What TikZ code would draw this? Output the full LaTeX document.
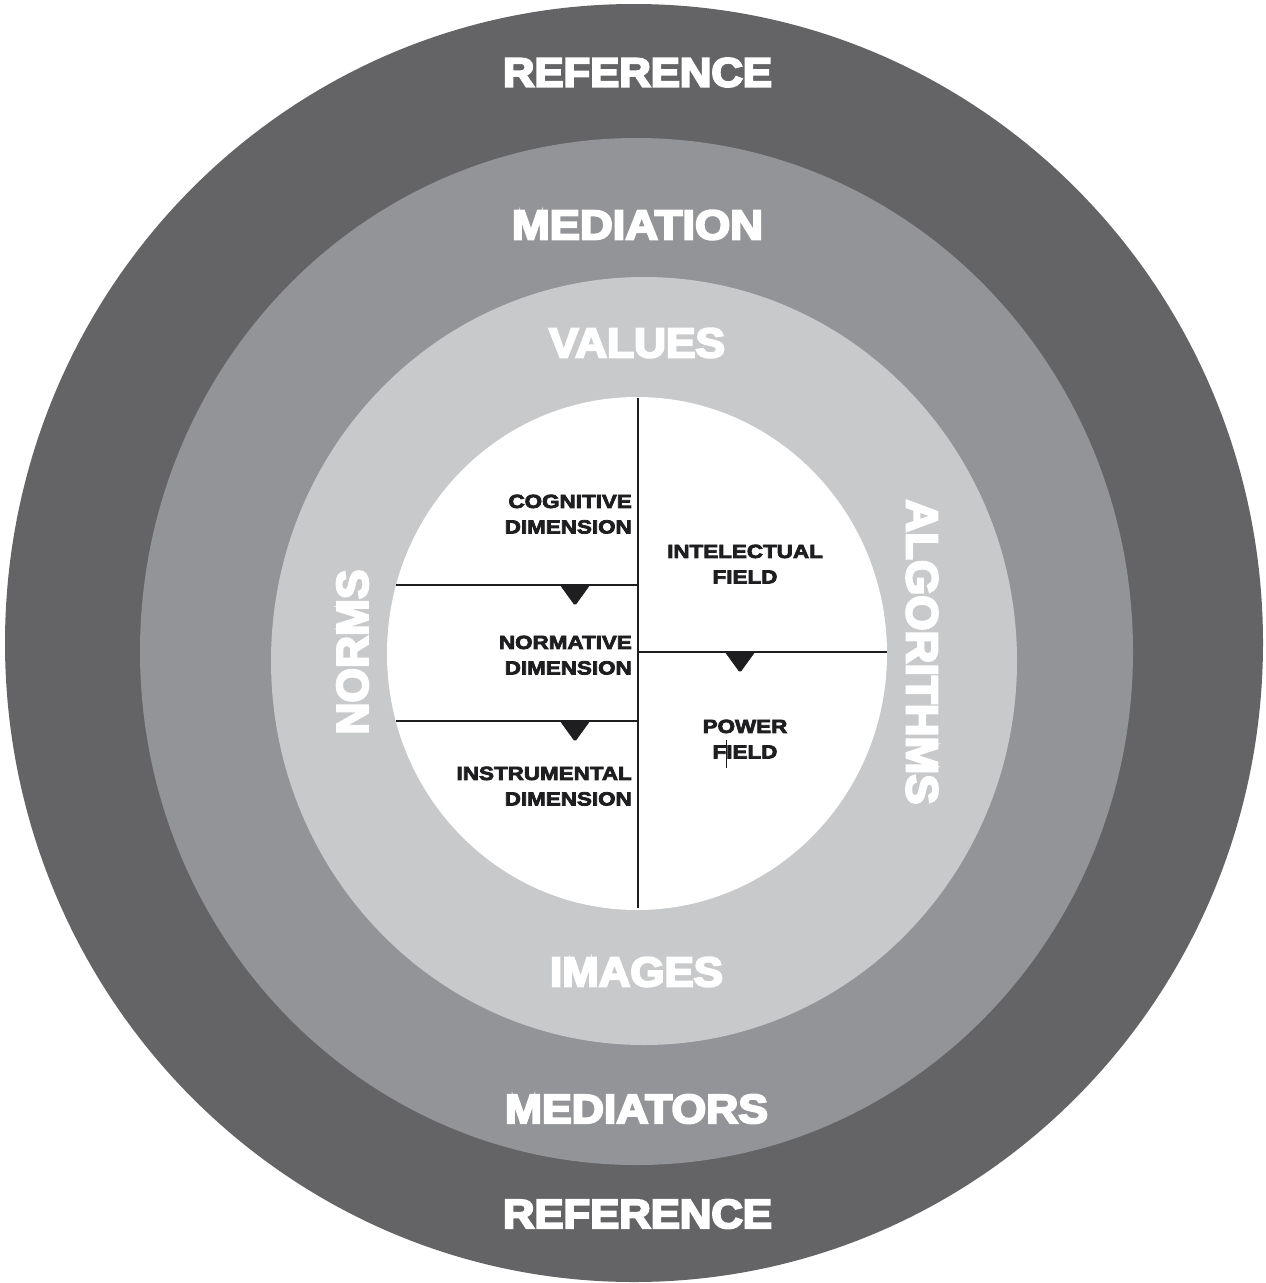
\documentclass[tikz,border=0pt]{standalone}
\usepackage{fontspec}
\usepackage{graphicx}
% heavy lettering for the ring titles and the cell captions
\newfontfamily\ringfont[FakeBold=5]{Liberation Sans Bold}
\newfontfamily\cellfont[FakeBold=4,FakeStretch=1.18]{Liberation Sans Bold}
\definecolor{ringdark}{RGB}{100,100,102}
\definecolor{ringmid}{RGB}{147,148,151}
\definecolor{ringlight}{RGB}{200,201,203}
\definecolor{ink}{RGB}{30,30,32}
\tikzset{
  ringlabel/.style={text=white, inner sep=0pt, font=\ringfont\fontsize{40}{44}\selectfont},
  celllabel/.style={text=ink, inner sep=0pt, font=\cellfont\fontsize{19}{25.5}\selectfont},
  divider/.style={draw=ink, line width=1.5pt},
  axis/.style={draw=ink, line width=2.2pt},
  pointer/.style={fill=ink, draw=ink, line width=1pt, rounded corners=1.5pt},
}
\begin{document}
\begin{tikzpicture}[x=1pt,y=-1pt]
\useasboundingbox (0,0) rectangle (1266,1283);

% concentric rings
\fill[ringdark]  (634,643)   ellipse [x radius=629,   y radius=639];
\fill[ringmid]   (636.5,651.5) ellipse [x radius=496.5, y radius=513.5];
\fill[ringlight] (644,661)   ellipse [x radius=373,   y radius=384];
\fill[white]     (637,653.5) ellipse [x radius=250,   y radius=256.5];

% ring titles
\node[ringlabel] (reftop) at (637.5,72.5)  {\resizebox{269pt}{28.5pt}{REFERENCE}};
\node[ringlabel] (mediation) at (637.5,225) {\resizebox{251pt}{29pt}{MEDIATION}};
\node[ringlabel] (values) at (637,343)     {\resizebox{176pt}{29pt}{VALUES}};
\node[ringlabel] (images) at (636.5,972)   {\resizebox{173pt}{29pt}{IMAGES}};
\node[ringlabel] (mediators) at (636.5,1109) {\resizebox{263pt}{28.5pt}{MEDIATORS}};
\node[ringlabel] (refbottom) at (637.5,1214) {\resizebox{269pt}{28.5pt}{REFERENCE}};
\node[ringlabel, rotate=90]  (norms) at (352.5,652) {\resizebox{165pt}{31pt}{NORMS}};
\node[ringlabel, rotate=-90] (algorithms) at (922,652) {\resizebox{305pt}{31pt}{ALGORITHMS}};

% dividing lines of the core
\coordinate (axtop) at (638,398);
\coordinate (axbot) at (638,908);
\coordinate (l1a) at (396,585);  \coordinate (l1b) at (638,585);
\coordinate (l2a) at (396,721);  \coordinate (l2b) at (638,721);
\coordinate (r1a) at (638,652);  \coordinate (r1b) at (887,652);
\draw[divider] (l1a) -- (l1b);
\draw[divider] (l2a) -- (l2b);
\draw[divider] (r1a) -- (r1b);
\draw[axis] (axtop) -- (axbot);

% downward pointers
\foreach \cx/\cy in {575/585, 575/721, 740/652}{
  \draw[pointer] (\cx-14.5,\cy) -- (\cx+14.5,\cy) -- (\cx,\cy+20) -- cycle;
}

% cell captions
\node[celllabel, anchor=north east, align=right] (cognitive) at (632,494.5) {COGNITIVE\\DIMENSION};
\node[celllabel, anchor=north east, align=right] (normative) at (632,635.5) {NORMATIVE\\DIMENSION};
\node[celllabel, anchor=north east, align=right] (instrumental) at (632,766.5) {INSTRUMENTAL\\DIMENSION};
\node[celllabel, anchor=north, align=center] (intellectual) at (745,544.5) {INTELECTUAL\\FIELD};
\node[celllabel, anchor=north, align=center] (power) at (745,719.5) {POWER\\FIELD};

% caret mark across the last caption
\draw[ink, line width=1pt] (726,740) -- (726,768);
\end{tikzpicture}
\end{document}
